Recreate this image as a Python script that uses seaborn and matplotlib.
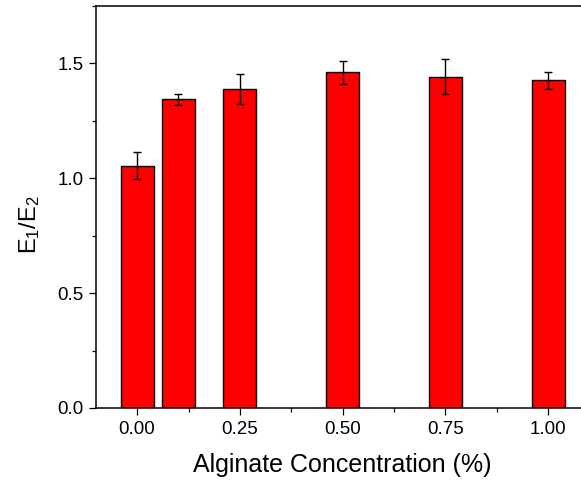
import matplotlib
matplotlib.use("Agg")
import matplotlib.pyplot as plt
import seaborn as sns
import pandas as pd
import numpy as np
from matplotlib.ticker import MultipleLocator

# Data
concentration = [0.00, 0.10, 0.25, 0.50, 0.75, 1.00]
ratio = [1.055, 1.343, 1.388, 1.461, 1.442, 1.426]
ratio_err = [0.060, 0.025, 0.065, 0.049, 0.077, 0.037]

df = pd.DataFrame({"conc": concentration, "ratio": ratio, "err": ratio_err})

sns.set_style("ticks")
plt.rcParams["font.family"] = ["Liberation Sans", "DejaVu Sans"]
plt.rcParams["mathtext.fontset"] = "custom"
plt.rcParams["mathtext.rm"] = "Liberation Sans"
plt.rcParams["mathtext.it"] = "Liberation Sans"
for k in ["text.color", "axes.labelcolor", "xtick.color", "ytick.color", "axes.edgecolor"]:
    plt.rcParams[k] = "black"

fig = plt.figure(figsize=(5.81, 4.84), dpi=100)
ax = fig.add_axes([96 / 581, 76 / 484, 493.4 / 581, 402 / 484])

sns.barplot(data=df, x="conc", y="ratio", native_scale=True, width=0.8,
            color="#FF0000", saturation=1, edgecolor="black", linewidth=1.0,
            errorbar=None, ax=ax)
ax.errorbar(df["conc"], df["ratio"], yerr=df["err"], fmt="none",
            ecolor="black", elinewidth=1.0, capsize=2.8, capthick=1.0)

ax.set_xlim(-0.1, 1.1)
ax.set_ylim(0, 1.75)
ax.xaxis.set_major_locator(MultipleLocator(0.25))
ax.xaxis.set_minor_locator(MultipleLocator(0.125))
ax.yaxis.set_major_locator(MultipleLocator(0.5))
ax.yaxis.set_minor_locator(MultipleLocator(0.25))
ax.set_xticklabels([f"{v:.2f}" for v in ax.get_xticks()])
ax.set_yticklabels([f"{v:.1f}" for v in ax.get_yticks()])
ax.set_xlim(-0.1, 1.1)
ax.set_ylim(0, 1.75)

for s in ax.spines.values():
    s.set_visible(True)
    s.set_linewidth(1.1)
    s.set_color("black")

ax.tick_params(axis="both", which="major", direction="out", length=5, width=0.9,
               labelsize=13.5, color="black", labelcolor="black", pad=4)
ax.tick_params(axis="both", which="minor", direction="out", length=3, width=0.9,
               color="black")
ax.tick_params(top=False, right=False, which="both")

ax.set_xlabel("Alginate Concentration (%)", fontsize=18)
ax.set_ylabel(r"E$_1$/E$_2$", fontsize=17)
ax.xaxis.set_label_coords(0.5, -0.113)
ax.yaxis.set_label_coords(-0.109, 0.455)

fig.savefig("out.png", dpi=100)
